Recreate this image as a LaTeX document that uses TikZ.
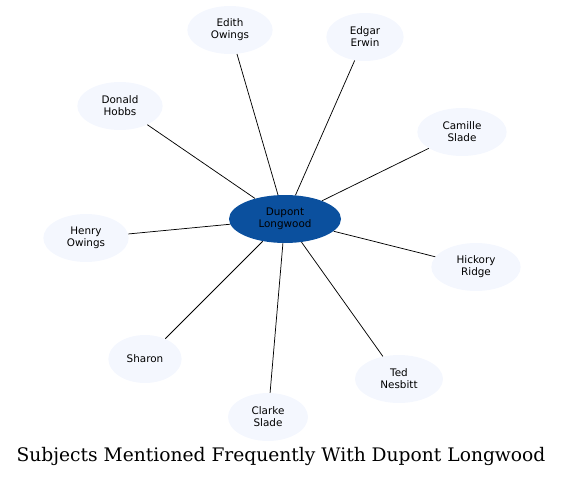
\documentclass[tikz,border=0pt]{standalone}
\usepackage{fontspec}
\setmainfont{DejaVu Serif}
\setsansfont{DejaVu Sans}
\usetikzlibrary{shapes.geometric}
\definecolor{hubblue}{RGB}{11,80,158}
\definecolor{leaffill}{RGB}{244,247,254}

\begin{document}
\begin{tikzpicture}[x=0.75pt, y=-0.75pt,
    every node/.style={align=center, font=\sffamily\fontsize{7.8}{9}\selectfont},
    leaf/.style={ellipse, fill=leaffill, minimum width=64pt, minimum height=36pt, inner sep=0pt},
    hub/.style={ellipse, fill=hubblue, minimum width=84pt, minimum height=36pt, inner sep=0pt},
    link/.style={draw=black, line width=0.55pt}]
    \useasboundingbox (0,0) rectangle (564,478);

    \node[hub] (dupont) at (285,219) {Dupont\\Longwood};

    \node[leaf] (edith) at (230,30) {Edith\\Owings};
    \node[leaf, minimum width=58pt] (edgar) at (365,37) {Edgar\\Erwin};
    \node[leaf] (donald) at (120,106) {Donald\\Hobbs};
    \node[leaf, minimum width=67pt] (camille) at (462,132) {Camille\\Slade};
    \node[leaf] (henry) at (86,238) {Henry\\Owings};
    \node[leaf, minimum width=67pt] (hickory) at (476,267) {Hickory\\Ridge};
    \node[leaf, minimum width=55pt] (sharon) at (145,359) {Sharon};
    \node[leaf, minimum width=66pt] (ted) at (399,379) {Ted\\Nesbitt};
    \node[leaf, minimum width=60pt] (clarke) at (268,417) {Clarke\\Slade};

    \foreach \leafname in {edith,edgar,donald,camille,henry,hickory,sharon,ted,clarke}
        \draw[link] (dupont) -- (\leafname);

    \node[font=\rmfamily\fontsize{14}{16}\selectfont] (title) at (281,456) {Subjects Mentioned Frequently With Dupont Longwood};
\end{tikzpicture}
\end{document}
